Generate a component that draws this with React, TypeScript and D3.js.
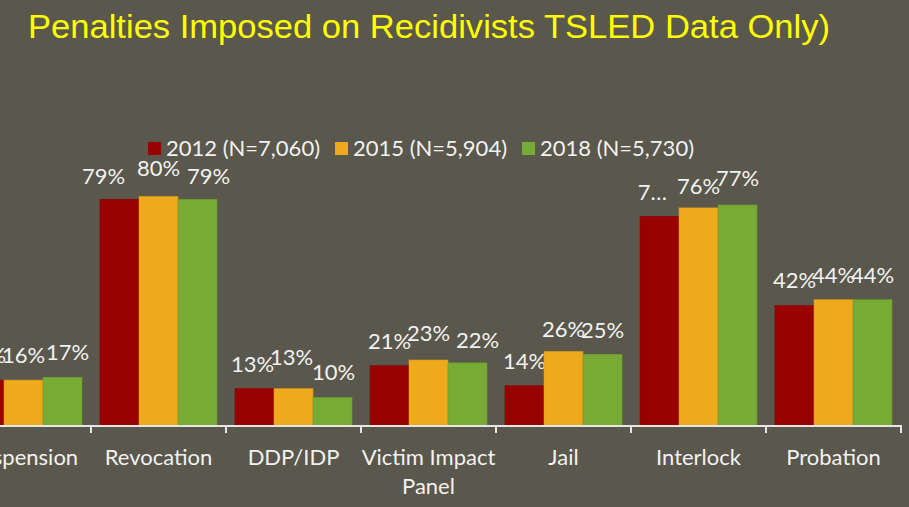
import React, { useEffect, useRef } from 'react';
import * as d3 from 'd3';

// chart data
const categories = ['Suspension', 'Revocation', 'DDP/IDP', 'Victim Impact Panel', 'Jail', 'Interlock', 'Probation'];
const seriesNames = ['2012 (N=7,060)', '2015 (N=5,904)', '2018 (N=5,730)'];
const values2012 = [16, 79, 13, 21, 14, 73, 42];
const values2015 = [16, 80, 13, 23, 26, 76, 44];
const values2018 = [17, 79, 10, 22, 25, 77, 44];
// labels as shown on the slide (one got clipped to "7…")
const labels2012 = ['16%', '79%', '13%', '21%', '14%', '7…', '42%'];
const labels2015 = ['16%', '80%', '13%', '23%', '26%', '76%', '44%'];
const labels2018 = ['17%', '79%', '10%', '22%', '25%', '77%', '44%'];
const categoryLines = [['Suspension'], ['Revocation'], ['DDP/IDP'], ['Victim Impact', 'Panel'], ['Jail'], ['Interlock'], ['Probation']];

// small nudges powerpoint applied to overlapping labels [dx, dy] per series
const labelNudge: Record<string, [number, number][]> = {
  Suspension: [[0, 0], [0, 0], [5, 0]],
  Revocation: [[-16, 2], [0, -3], [11, 2]],
  'DDP/IDP': [[-2, 0], [-2, -7], [1, 0]],
  'Victim Impact Panel': [[0, 0], [0, -2], [10, 2]],
  Jail: [[0, 0], [0, 3], [0, 1]],
  Interlock: [[-7, 1], [0, 3], [0, -2]],
  Probation: [[0, 0], [0, 0], [0, 0]],
};

const colors = ['#990000', '#eeaa1b', '#77ab35'];
const W = 909;
const H = 507;

export default function App() {
  const svgRef = useRef<SVGSVGElement>(null);

  useEffect(() => {
    document.body.style.margin = '0';
    const svg = d3.select(svgRef.current);
    svg.selectAll('*').remove();

    svg.append('rect').attr('width', W).attr('height', H).attr('fill', '#5a574c');

    svg
      .append('text')
      .attr('x', 28)
      .attr('y', 38)
      .attr('fill', '#ffff00')
      .style('font-family', '"Liberation Sans", Arial, sans-serif')
      .style('font-size', '33px')
      .attr('textLength', 802)
      .attr('lengthAdjust', 'spacingAndGlyphs')
      .text('Penalties Imposed on Recidivists TSLED Data Only)');

    const x = d3.scaleBand<string>().domain(categories).range([-44, 901]).padding(0);
    const x1 = d3.scaleBand<number>().domain([0, 1, 2]).range([9, x.bandwidth() - 9]).padding(0);
    const y = d3.scaleLinear().domain([0, 100]).range([426, 139]);

    const series = [values2012, values2015, values2018];
    const labels = [labels2012, labels2015, labels2018];
    const font = 'Lato, "Open Sans", sans-serif';

    const rows = categories.map((c, i) => ({ c, i }));
    const groups = svg
      .selectAll('g.grp')
      .data(rows)
      .enter()
      .append('g')
      .attr('transform', (d) => `translate(${x(d.c)},0)`);

    series.forEach((vals, s) => {
      groups
        .append('rect')
        .attr('x', x1(s)!)
        .attr('width', x1.bandwidth())
        .attr('y', (d) => y(vals[d.i]))
        .attr('height', (d) => y(0) - y(vals[d.i]))
        .attr('fill', colors[s])
        .attr('stroke', d3.color(colors[s])!.darker(0.3).toString())
        .attr('stroke-width', 0.6);

      groups
        .append('text')
        .attr('x', (d) => x1(s)! + x1.bandwidth() / 2 + labelNudge[d.c][s][0])
        .attr('y', (d) => y(vals[d.i]) - 17 + labelNudge[d.c][s][1])
        .attr('text-anchor', 'middle')
        .attr('fill', '#f2f2f2')
        .style('font-family', font)
        .style('font-size', '22px')
        .text((d) => labels[s][d.i]);
    });

    // category axis
    const axis = svg.append('g');
    axis
      .append('line')
      .attr('x1', 0)
      .attr('x2', 902)
      .attr('y1', 426)
      .attr('y2', 426)
      .attr('stroke', '#e6e6e6')
      .attr('stroke-width', 2);
    const ticks = categories.map((c) => x(c)! + x.bandwidth());
    axis
      .selectAll('line.tick')
      .data(ticks)
      .enter()
      .append('line')
      .attr('x1', (d) => d)
      .attr('x2', (d) => d)
      .attr('y1', 426)
      .attr('y2', 433)
      .attr('stroke', '#e6e6e6')
      .attr('stroke-width', 2);

    const catText = axis
      .selectAll('text.cat')
      .data(rows)
      .enter()
      .append('text')
      .attr('x', (d) => x(d.c)! + x.bandwidth() / 2)
      .attr('y', 465)
      .attr('text-anchor', 'middle')
      .attr('fill', '#f2f2f2')
      .style('font-family', font)
      .style('font-size', '22px');
    catText
      .selectAll('tspan')
      .data((d) => categoryLines[d.i].map((t, k) => ({ t, k, cx: x(d.c)! + x.bandwidth() / 2 })))
      .enter()
      .append('tspan')
      .attr('x', (d) => d.cx)
      .attr('dy', (d) => (d.k === 0 ? 0 : 29))
      .text((d) => d.t);

    // legend
    const legendX = [148, 335, 522];
    const legend = svg
      .selectAll('g.leg')
      .data(seriesNames)
      .enter()
      .append('g')
      .attr('transform', (d, i) => `translate(${legendX[i]},142)`);
    legend
      .append('rect')
      .attr('width', 13)
      .attr('height', 13)
      .attr('fill', (d, i) => colors[i]);
    legend
      .append('text')
      .attr('x', 18)
      .attr('y', 14)
      .attr('fill', '#f2f2f2')
      .style('font-family', font)
      .style('font-size', '22px')
      .text((d) => d);
  }, []);

  return <svg ref={svgRef} width={W} height={H} style={{ display: 'block' }} />;
}
